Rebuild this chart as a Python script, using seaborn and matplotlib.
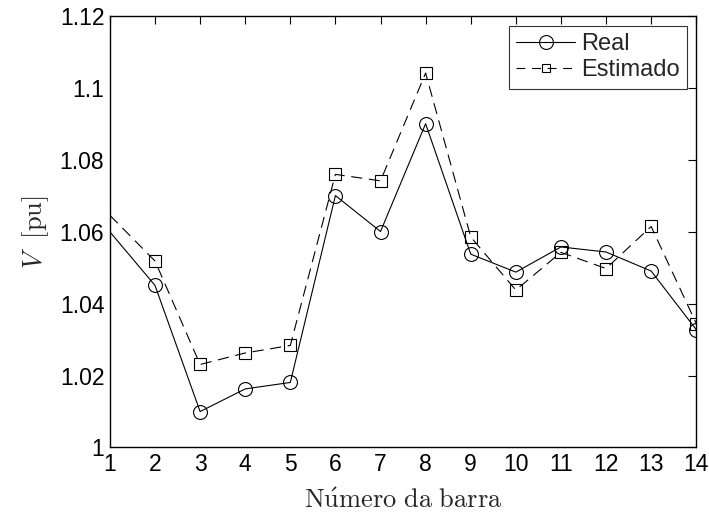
import matplotlib
matplotlib.use("Agg")
import matplotlib.pyplot as plt
import seaborn as sns
import pandas as pd
from matplotlib.ticker import FixedLocator, FuncFormatter
from matplotlib.lines import Line2D

barras = list(range(1, 15))
real = [1.060, 1.0451, 1.0100, 1.0163, 1.0181, 1.0701, 1.0601, 1.0901,
        1.0538, 1.0488, 1.0558, 1.0544, 1.0491, 1.0328]
estimado = [1.0646, 1.0519, 1.0231, 1.0263, 1.0284, 1.0760, 1.0742, 1.1042,
            1.0586, 1.0438, 1.0543, 1.0498, 1.0615, 1.0345]
yticks = [1.0, 1.02, 1.04, 1.06, 1.08, 1.1, 1.12]
series_names = ["Real", "Estimado"]

sns.set_theme(style="white")
plt.rcParams['font.family'] = ['Liberation Sans', 'DejaVu Sans']
plt.rcParams['mathtext.fontset'] = 'cm'

fig = plt.figure(figsize=(7.09, 5.24), dpi=100)
ax = fig.add_axes([0.155, 0.146, 0.827, 0.823])

df_r = pd.DataFrame({"barra": barras, "V": real})
df_e = pd.DataFrame({"barra": barras, "V": estimado})

dash = (0, (10, 6))
sns.lineplot(data=df_r, x="barra", y="V", ax=ax, color="black", lw=0.8,
             marker="o", markersize=10, markerfacecolor="none",
             markeredgecolor="black", markeredgewidth=0.8,
             markevery=list(range(1, 14)), legend=False)
sns.lineplot(data=df_e, x="barra", y="V", ax=ax, color="black", lw=0.8,
             linestyle=dash,
             marker="s", markersize=8, markerfacecolor="none",
             markeredgecolor="black", markeredgewidth=0.8,
             markevery=list(range(1, 14)), legend=False)

ax.set_xlim(1, 14)
ax.set_ylim(1.0, 1.12)
ax.xaxis.set_major_locator(FixedLocator(barras))
ax.yaxis.set_major_locator(FixedLocator(yticks))
ax.yaxis.set_major_formatter(FuncFormatter(lambda v, p: f"{v:.2f}".rstrip('0').rstrip('.')))
ax.tick_params(direction="in", length=6, width=0.8, top=True, right=True,
               labelsize=16.5, colors="black", pad=4)
for s in ax.spines.values():
    s.set_color("black")
    s.set_linewidth(1.0)

ax.set_xlabel(r"$\mathrm{N\acute{u}mero\ da\ barra}$", fontsize=19, labelpad=9)
ax.set_ylabel(r"$V\ \ [\mathrm{pu}]$", fontsize=19, labelpad=6)

handles = [
    Line2D([], [], color="black", lw=0.8, marker="o", markersize=10,
           markerfacecolor="none", markeredgecolor="black", markeredgewidth=0.8),
    Line2D([], [], color="black", lw=0.8, linestyle=(0, (8, 6)), marker="s",
           markersize=6, markerfacecolor="none", markeredgecolor="black",
           markeredgewidth=0.8),
]
leg = ax.legend(handles, series_names, loc="upper right", fontsize=17,
                frameon=True, fancybox=False, numpoints=1,
                edgecolor="black", borderpad=0.3, handlelength=2.5,
                handletextpad=0.25, labelspacing=0.2, borderaxespad=0.4)
leg.get_frame().set_linewidth(0.8)

fig.savefig("out.png", dpi=100, facecolor="white")
